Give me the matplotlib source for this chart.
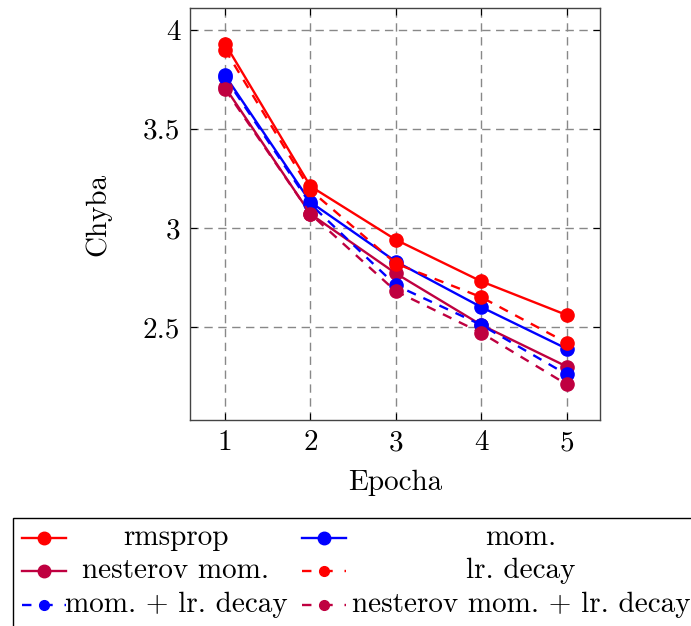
import matplotlib
matplotlib.use("Agg")
import matplotlib.pyplot as plt
from matplotlib.lines import Line2D
from matplotlib.patches import Rectangle

plt.rcParams['font.family'] = ['cmr10', 'DejaVu Serif']
plt.rcParams['mathtext.fontset'] = 'cm'
plt.rcParams['axes.formatter.use_mathtext'] = True

# data
epochs = [1, 2, 3, 4, 5]
rmsprop = [3.93, 3.21, 2.94, 2.73, 2.56]
mom = [3.77, 3.13, 2.83, 2.60, 2.39]
nesterov = [3.71, 3.07, 2.77, 2.51, 2.30]
lr_decay = [3.90, 3.19, 2.82, 2.65, 2.42]
mom_lr_decay = [3.76, 3.12, 2.71, 2.51, 2.26]
nesterov_lr_decay = [3.70, 3.07, 2.68, 2.47, 2.21]

labels = ["rmsprop", "mom.", "nesterov mom.", "lr. decay",
          "mom. + lr. decay", "nesterov mom. + lr. decay"]
series = [rmsprop, mom, nesterov, lr_decay, mom_lr_decay, nesterov_lr_decay]
colors = ["#ff0000", "#0000ff", "#bf0040", "#ff0000", "#0000ff", "#bf0040"]
styles = ["-", "-", "-", "--", "--", "--"]

fs = 21
fig = plt.figure(figsize=(6.91, 6.26), dpi=100)
W, H = 691.0, 626.0
ax = fig.add_axes([190 / W, 1 - 420 / H, 410 / W, 412 / H])

for ys, c, ls in zip(series, colors, styles):
    ax.plot(epochs, ys, color=c, linestyle=ls, linewidth=1.7,
            marker='o', markersize=9.5, dashes=(4, 3.5) if ls == "--" else (None, None))

ax.set_xlim(0.59, 5.39)
ax.set_ylim(2.03, 4.11)
ax.set_xticks(epochs)
ax.set_xticklabels([str(e) for e in epochs])
ax.set_yticks([2.5, 3, 3.5, 4])
ax.set_yticklabels(["2.5", "3", "3.5", "4"])
ax.grid(True, color='#888888', linestyle=(0, (6, 4)), linewidth=1.0)
ax.set_axisbelow(True)
ax.tick_params(direction='in', length=5, labelsize=fs, top=True, right=True, pad=7)
for s in ax.spines.values():
    s.set_color('#444444')
    s.set_linewidth(1.0)
ax.set_xlabel("Epocha", fontsize=fs, labelpad=10)
ax.set_ylabel("Chyba", fontsize=fs, labelpad=23)

# legend drawn by hand so labels can be centred in their columns
fig.patches.append(Rectangle((13 / W, 1 - 640 / H), 700 / W, 122 / H,
                             transform=fig.transFigure, fill=False,
                             edgecolor='black', linewidth=1.0))
rows = [538, 571, 605]
hx = [(22, 66), (302, 346)]
tx = [176, 521]
for i, (lab, c, ls) in enumerate(zip(labels, colors, styles)):
    r, col = divmod(i, 2)
    y = 1 - rows[r] / H
    x0, x1 = hx[col]
    fig.lines.append(Line2D([x0 / W, x1 / W], [y, y], transform=fig.transFigure,
                            color=c, linestyle=ls, linewidth=1.7,
                            dashes=(4, 5) if ls == "--" else (None, None)))
    fig.lines.append(Line2D([(x0 + x1) / 2 / W], [y], transform=fig.transFigure,
                            color=c, marker='o', markersize=9 if ls == "-" else 7,
                            linestyle='none'))
    fig.text(tx[col] / W, y, lab, fontsize=fs, ha='center', va='center')

fig.savefig("out.png", dpi=100)
